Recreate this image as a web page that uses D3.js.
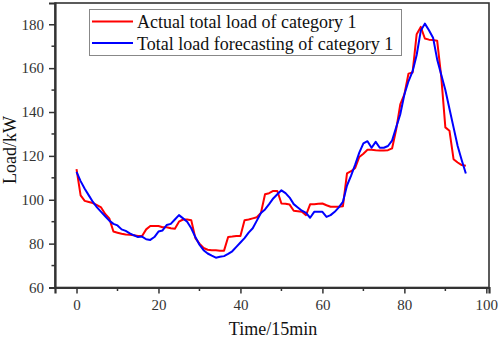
<!doctype html>
<html>
<head>
<style>
  body { margin: 0; background: #fff; }
  text { font-family: "Liberation Serif", "Times New Roman", serif; }
</style>
<script src="https://d3js.org/d3.v7.min.js"></script>
</head>
<body>
<svg width="498" height="339"></svg>
<script>
// actual and forecast load, one value per 15 min step (t = 0..95)
var actual = [114, 102, 99.5, 99, 98.5, 97.5, 96.5, 93.5, 91.5, 85.5,
  85, 84.5, 84.2, 84, 83.8, 83.5, 83.5, 86.5, 88, 88,
  88, 87.5, 87.5, 87, 86.8, 90, 91, 91, 90.7, 82.5,
  80, 78, 77.2, 77, 77, 76.8, 76.8, 83, 83.2, 83.5,
  83.5, 90.7, 91, 91.5, 92, 94, 102.5, 103, 104, 104,
  98.3, 98.2, 97.8, 95, 94.8, 94.5, 93, 97.9, 98, 98.2,
  98.3, 97.5, 96.8, 96.8, 96.8, 97, 112, 113, 114.5, 119.5,
  121, 122.8, 122.8, 122.6, 122.5, 122.5, 122.6, 123.4, 132, 143.5,
  148, 157.5, 158, 175.5, 178.8, 173.5, 173, 172.8, 172.5, 156,
  133, 131.5, 118.5, 117, 115.8, 115.5];

var forecast = [112.7, 108.5, 105, 102, 99, 96.5, 94.5, 92.5, 90.5, 89,
  88.3, 86.5, 85.8, 84.7, 83.8, 83, 83.2, 82, 81.7, 83,
  85.5, 86, 88.5, 89, 91, 93, 91.5, 90, 87, 83,
  79.5, 77, 75.5, 74.5, 73.6, 74, 74.3, 75.3, 76.5, 78.5,
  80.5, 82.5, 85, 87, 90.5, 94, 95.6, 98, 100.6, 102.5,
  104.3, 103, 101, 98, 96.5, 95, 94, 91.8, 94.5, 94.5,
  94.5, 92.2, 93, 94.5, 96.5, 99, 106.5, 111, 116, 121.5,
  125.7, 126.7, 123.7, 126.4, 123.7, 123.7, 124.5, 127, 133, 139,
  148, 154, 158.5, 166, 177, 180.3, 177.3, 173.9, 164, 157,
  150, 141.5, 133, 124.5, 118, 112];

var xTicks = [0, 20, 40, 60, 80, 100];
var yTicks = [60, 80, 100, 120, 140, 160, 180];
var seriesNames = ["Actual total load of category 1", "Total load forecasting of category 1"];
var seriesColors = ["#ff0000", "#0000ff"];

var svg = d3.select("svg");
var pLeft = 55, pRight = 489, pTop = 3, pBottom = 287.5;

var x = d3.scaleLinear().domain([-5.25, 100.65]).range([pLeft, pRight]);
var y = d3.scaleLinear().domain([60, 189.7]).range([pBottom, pTop]);

// frame
svg.append("rect")
  .attr("x", pLeft).attr("y", pTop)
  .attr("width", pRight - pLeft).attr("height", pBottom - pTop)
  .attr("fill", "none").attr("stroke", "#333").attr("stroke-width", 1.6);

// minor ticks
var xMinor = d3.range(10, 100, 20);
var yMinor = d3.range(70, 190, 20);
svg.append("g").selectAll("line").data(xMinor).enter().append("line")
  .attr("x1", function(d) { return x(d); }).attr("x2", function(d) { return x(d); })
  .attr("y1", pBottom).attr("y2", pBottom + 3.5)
  .attr("stroke", "#333").attr("stroke-width", 1.5);
svg.append("g").selectAll("line").data(yMinor).enter().append("line")
  .attr("y1", function(d) { return y(d); }).attr("y2", function(d) { return y(d); })
  .attr("x1", pLeft).attr("x2", pLeft - 3.5)
  .attr("stroke", "#333").attr("stroke-width", 1.5);

var xAxis = svg.append("g")
  .attr("transform", "translate(0," + pBottom + ")")
  .call(d3.axisBottom(x).tickValues(xTicks).tickSize(6).tickPadding(6));
var yAxis = svg.append("g")
  .attr("transform", "translate(" + pLeft + ",0)")
  .call(d3.axisLeft(y).tickValues(yTicks).tickSize(6).tickPadding(5));

[xAxis, yAxis].forEach(function(a) {
  a.select(".domain").attr("stroke", "#333").attr("stroke-width", 2.2);
  a.selectAll(".tick line").attr("stroke", "#333").attr("stroke-width", 1.5);
  a.selectAll(".tick text")
    .attr("fill", "#333")
    .attr("font-size", "15px")
    .attr("font-family", "Liberation Serif, serif");
});

// axis titles
svg.append("text")
  .attr("x", 273).attr("y", 335)
  .attr("text-anchor", "middle")
  .attr("font-size", "18px")
  .attr("fill", "#111")
  .text("Time/15min");
svg.append("text")
  .attr("transform", "translate(16,150) rotate(-90)")
  .attr("text-anchor", "middle")
  .attr("font-size", "18px")
  .attr("fill", "#111")
  .text("Load/kW");

// lines
var line = d3.line()
  .x(function(d, i) { return x(i); })
  .y(function(d) { return y(d); });

[actual, forecast].forEach(function(s, k) {
  svg.append("path")
    .datum(s)
    .attr("d", line)
    .attr("fill", "none")
    .attr("stroke", seriesColors[k])
    .attr("stroke-width", 2)
    .attr("stroke-linejoin", "round");
});

// legend
var lg = svg.append("g");
lg.append("rect")
  .attr("x", 89.5).attr("y", 9.5)
  .attr("width", 312).attr("height", 46)
  .attr("fill", "#fff").attr("stroke", "#888").attr("stroke-width", 1);
seriesNames.forEach(function(name, k) {
  var yy = 21.5 + k * 21.5;
  lg.append("line")
    .attr("x1", 92).attr("x2", 133)
    .attr("y1", yy).attr("y2", yy)
    .attr("stroke", seriesColors[k]).attr("stroke-width", 2);
  lg.append("text")
    .attr("x", 137).attr("y", yy + 6.5)
    .attr("font-size", "18px")
    .attr("fill", "#111")
    .text(name);
});
</script>
</body>
</html>
